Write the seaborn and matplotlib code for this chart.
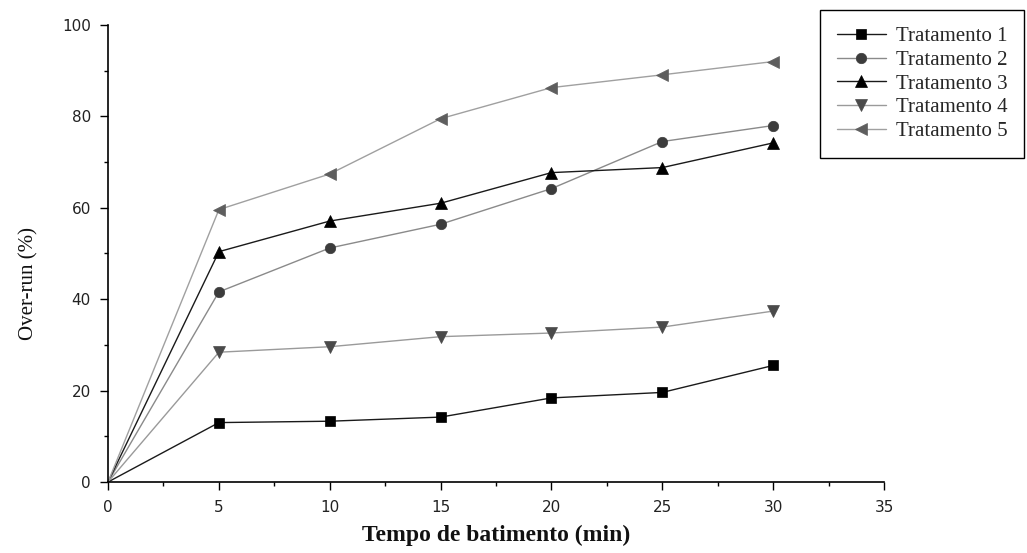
import numpy as np
import pandas as pd
import seaborn as sns
import matplotlib.pyplot as plt
from matplotlib.ticker import MultipleLocator

# tempo de batimento (min) and over-run (%)
tempo = [0, 5, 10, 15, 20, 25, 30]
trat1 = [0, 13.0, 13.3, 14.2, 18.4, 19.6, 25.5]
trat2 = [0, 41.6, 51.2, 56.4, 64.2, 74.5, 78.0]
trat3 = [0, 50.4, 57.1, 61.0, 67.7, 68.8, 74.2]
trat4 = [0, 28.4, 29.6, 31.8, 32.6, 33.9, 37.4]
trat5 = [0, 59.6, 67.4, 79.5, 86.3, 89.1, 92.0]

nomes = ["Tratamento 1", "Tratamento 2", "Tratamento 3", "Tratamento 4", "Tratamento 5"]
series = [trat1, trat2, trat3, trat4, trat5]
markers = ["s", "o", "^", "v", "<"]
line_colors = ["#1a1a1a", "#8a8a8a", "#1a1a1a", "#9a9a9a", "#a0a0a0"]
marker_colors = ["#000000", "#3c3c3c", "#000000", "#4a4a4a", "#5e5e5e"]
marker_sizes = [7.2, 7.5, 8.2, 8.2, 8.2]

sns.set_style("ticks")
plt.rcParams['font.family'] = ['DejaVu Sans']

fig = plt.figure(figsize=(10.27, 5.53), dpi=100)
fig.subplots_adjust(left=0.1052, right=0.8608, bottom=0.1284, top=0.9548)
ax = fig.add_subplot(111)

for nome, vals, m, lc, mc, ms in zip(nomes, series, markers, line_colors, marker_colors, marker_sizes):
    df = pd.DataFrame({"tempo": tempo, "overrun": vals})
    # no symbol at the origin, only the line starts there
    sns.lineplot(data=df, x="tempo", y="overrun", ax=ax, color=lc, linewidth=1.0,
                 marker=m, markersize=ms, markerfacecolor=mc, markeredgecolor=mc,
                 markeredgewidth=0.5, markevery=slice(1, None), label=nome, legend=False)

ax.set_xlim(0, 35)
ax.set_ylim(0, 100)
ax.xaxis.set_major_locator(MultipleLocator(5))
ax.xaxis.set_minor_locator(MultipleLocator(2.5))
ax.yaxis.set_major_locator(MultipleLocator(20))
ax.yaxis.set_minor_locator(MultipleLocator(10))
ax.tick_params(which='major', direction='out', length=5.8, width=1.0, color='black',
               labelsize=11, labelcolor='#222222')
ax.tick_params(which='minor', direction='out', length=3, width=1.0, color='black')
ax.tick_params(axis='x', which='major', pad=7.5)
ax.tick_params(axis='y', which='major', pad=6.5)
sns.despine(ax=ax)
for sp in ['left', 'bottom']:
    ax.spines[sp].set_linewidth(1.2)
    ax.spines[sp].set_color('black')
for line in ax.get_lines():
    line.set_clip_on(False)

ax.set_xlabel("Tempo de batimento (min)", fontfamily="Liberation Serif",
              fontweight="bold", fontsize=17, color='#111111')
ax.xaxis.set_label_coords(0.5, -0.093)
ax.set_ylabel("Over-run (%)", fontfamily="Liberation Serif", fontsize=15, color='#111111')
ax.yaxis.set_label_coords(-0.089, 0.435)

handles, labels = ax.get_legend_handles_labels()
leg = ax.legend(handles, labels, loc='upper left', bbox_to_anchor=(0.7984, 0.982),
                bbox_transform=fig.transFigure, borderaxespad=0, frameon=True,
                fancybox=False, edgecolor='black', framealpha=1,
                prop={'family': 'Liberation Serif', 'size': 15},
                handlelength=2.35, handletextpad=0.5, labelspacing=0.2,
                borderpad=0.8)
leg.get_frame().set_linewidth(1.0)

fig.savefig("out.png", dpi=100)
